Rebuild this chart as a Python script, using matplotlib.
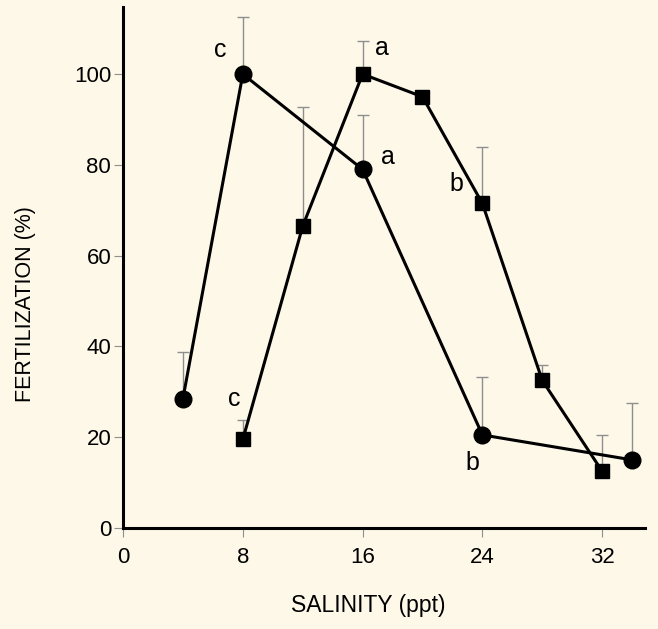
import numpy as np
import matplotlib
matplotlib.use("Agg")
import matplotlib.pyplot as plt

plt.rcParams["font.family"] = ["Liberation Sans", "DejaVu Sans"]

BG = "#fdf8e8"
GREY = "#8f8f8f"

# circles
circ_x = [4, 8, 16, 24, 34]
circ_y = [28.5, 100, 79, 20.5, 15]
circ_top = [38.8, 112.6, 91, 33.3, 27.5]
# squares
sq_x = [8, 12, 16, 20, 24, 28, 32]
sq_y = [19.5, 66.5, 100, 95, 71.5, 32.5, 12.5]
sq_top = [23.8, 92.8, 107.3, 95, 84, 35.9, 20.5]

# significance letters: (x, y, letter, offset in points)
letters = [
    (8, 100, "c", (-16, 17)),
    (16, 100, "a", (14, 19)),
    (16, 79, "a", (18, 9)),
    (8, 19.5, "c", (-6.5, 29.5)),
    (24, 71.5, "b", (-19, 14)),
    (24, 20.5, "b", (-7, -20)),
]

fig = plt.figure(figsize=(6.58, 6.29), dpi=100, facecolor=BG)
ax = fig.add_axes([0.187, 0.1606, 0.793, 0.8284], facecolor=BG)


def upper_bars(xs, ys, tops):
    up = np.array(tops) - np.array(ys)
    ax.errorbar(xs, ys, yerr=[np.zeros_like(up), up], fmt="none",
                ecolor=GREY, elinewidth=1.0, capsize=4.5, capthick=1.0,
                zorder=1)


upper_bars(circ_x, circ_y, circ_top)
upper_bars(sq_x, sq_y, sq_top)

ax.plot(circ_x, circ_y, "-o", color="black", lw=2.2, ms=12, zorder=3)
ax.plot(sq_x, sq_y, "-s", color="black", lw=2.2, ms=9.5, zorder=3)

for x, y, s, off in letters:
    ax.annotate(s, (x, y), xytext=off, textcoords="offset points",
                ha="center", va="center", fontsize=18)

ax.set_xlim(0, 34.85)
ax.set_ylim(0, 114.8)
ax.set_xticks([0, 8, 16, 24, 32])
ax.set_yticks([0, 20, 40, 60, 80, 100])
ax.tick_params(direction="out", length=6.5, width=0.8, color=GREY,
               labelsize=16)
ax.tick_params(axis="y", pad=2)
ax.tick_params(axis="x", pad=7.5)
for side in ["top", "right"]:
    ax.spines[side].set_visible(False)
for side in ["left", "bottom"]:
    ax.spines[side].set_linewidth(2.2)

ax.set_xlabel("SALINITY (ppt)", fontsize=16.5, va="center")
ax.set_ylabel("FERTILIZATION (%)", fontsize=15.5, va="center")
ax.xaxis.set_label_coords(0.469, -0.148)
ax.yaxis.set_label_coords(-0.186, 0.43)

fig.savefig("out.png", dpi=100, facecolor=BG)
